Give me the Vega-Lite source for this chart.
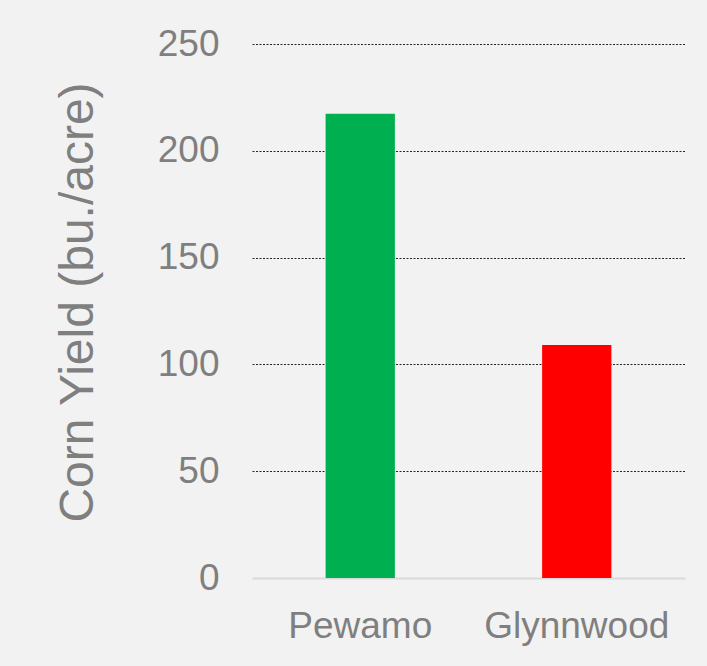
{
  "$schema": "https://vega.github.io/schema/vega-lite/v6.json",
  "width": 433,
  "height": 534,
  "autosize": {"type": "none"},
  "padding": {"left": 252, "top": 44, "right": 22, "bottom": 88},
  "background": "#f2f2f2",
  "data": {
    "values": [
      {"soil": "Pewamo", "yield": 217.3, "color": "#00b050"},
      {"soil": "Glynnwood", "yield": 109.1, "color": "#ff0000"}
    ]
  },
  "mark": {"type": "bar"},
  "encoding": {
    "x": {
      "field": "soil",
      "type": "nominal",
      "sort": null,
      "scale": {"paddingInner": 0.68, "paddingOuter": 0.34},
      "axis": {
        "title": null,
        "labelAngle": 0,
        "labelLimit": 0,
        "labelFont": "Liberation Sans",
        "labelFontSize": 37,
        "labelColor": "#7f7f7f",
        "labelPadding": 30,
        "ticks": false,
        "domain": true,
        "domainColor": "#d9d9d9",
        "domainWidth": 2
      }
    },
    "y": {
      "field": "yield",
      "type": "quantitative",
      "scale": {"domain": [0, 250], "nice": false},
      "axis": {
        "title": "Corn Yield (bu./acre)",
        "values": [0, 50, 100, 150, 200, 250],
        "domain": false,
        "ticks": false,
        "labelFont": "Liberation Sans",
        "labelFontSize": 37,
        "labelColor": "#7f7f7f",
        "labelPadding": 33,
        "titleFont": "Liberation Sans",
        "titleFontSize": 48,
        "titleFontWeight": "normal",
        "titleColor": "#7f7f7f",
        "titleBaseline": "alphabetic",
        "titleX": -160,
        "titleY": 258,
        "grid": true,
        "gridColor": "#262626",
        "gridDash": [2, 1.5],
        "gridWidth": 1.2,
        "gridOpacity": {"condition": {"test": "datum.value === 0", "value": 0}, "value": 1}
      }
    },
    "color": {"field": "color", "type": "nominal", "scale": null}
  },
  "config": {"view": {"stroke": null}}
}
